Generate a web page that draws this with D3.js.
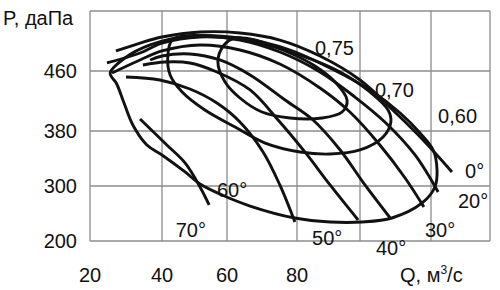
<!DOCTYPE html>
<html><head><meta charset="utf-8">
<script src="https://cdn.jsdelivr.net/npm/d3@7"></script>
<style>html,body{margin:0;padding:0;background:#fff}svg{display:block}text{font-family:"Liberation Sans",Arial,sans-serif;fill:#111}</style>
</head><body><svg id="c" width="500" height="290"></svg>
<script>
// axis ticks
const xTickLabels = [20, 40, 60, 80];
const yTickLabels = [200, 300, 380, 460];
const xGrid = [20, 40, 60, 80, 100, 120];
const yGrid = [200, 300, 380, 460, 540];
const xDomainMax = 136.6;

// blade-angle characteristics, [Q, P]
const curveNames = ["0°", "20°", "30°", "40°", "50°", "60°", "70°"];
const c0 = [[27.2,486.7],[33.9,497.3],[40,505.3],[51.7,512],[63.7,510.7],[75.1,501.3],[87.3,480],[100,448],[110.7,401.3],[118.3,364],[125.9,320.4]];
const c20 = [[24.7,470.7],[33.9,484],[40,497.3],[51.7,505.3],[63.7,501.3],[75.1,485.3],[87.3,458.7],[98.4,425.3],[107,392],[115.5,345.1],[122,289.1]];
const c30 = [[26.1,457.3],[33.9,474.7],[40,486.7],[51.7,494.7],[63.7,488],[75.1,469.3],[87.3,437.3],[96.8,405.3],[105.6,359.6],[112.7,311.6],[118,261.8]];
const c40 = [[36.7,474.7],[40,480],[48.6,482.7],[57.8,474.7],[66.6,454.7],[76.6,421.3],[85.1,394.7],[93.7,352.4],[101.4,301.5],[108.5,241.8]];
const c50 = [[34.7,468],[40.9,472],[48.6,470.7],[56.9,458.7],[66.6,434.7],[74.6,394.7],[82.5,349.5],[90.5,301.5],[99.4,238.2]];
const c60 = [[30,452],[39.4,448],[48.6,436],[56.9,417.3],[63.7,392],[70.3,349.5],[75.1,301.5],[79.4,234.5]];
const c70 = [[33.9,396],[41.5,359.6],[47.1,333.5],[51.7,298.2],[54.5,265.5]];

// efficiency contours (closed), [Q, P]
const effNames = ["0,75", "0,70", "0,60"];
const e75 = [[57.2,472],[59.1,494.7],[62.3,504],[68,501.3],[78,484],[85.7,466.7],[92.1,445.3],[95.9,421.3],[94.3,405.3],[87.9,397.3],[78,397.3],[70,405.3],[63.7,424],[59.4,445.3]];
const e70 = [[43.1,501.3],[41.8,481.3],[42.5,454.7],[46.2,432],[53.2,408],[62.3,385.3],[70.9,362.5],[81,349.5],[90.5,346.5],[100,352.4],[106.5,371.3],[108.7,392],[107.9,408],[102.8,432],[93.7,458.7],[81,481.3],[68,498.7],[54.8,506.7],[47.1,506.7]];
const e60 = [[25.6,457.3],[27.4,443],[29.4,418],[31.9,388],[35.8,359.6],[40,345.1],[47.1,320.4],[51.7,302.9],[58.5,283.6],[66.6,263.6],[79.4,241.8],[90.5,234.5],[100.6,234.5],[109,241.8],[117.5,269.1],[121.1,298.2],[121.7,323.3],[120.6,352.4],[116.9,377.1],[111.3,404],[102.8,434.7],[90.5,464],[78,488],[63.7,504],[48.6,506.7],[36.7,494.7],[29.7,477.3]];

// label anchors [Q, P]
const curveLabelPos = [[129.6,311.6],[127.6,260],[118.3,207.3],[104.5,174.5],[84.8,192.7],[56.9,280],[44.2,207.3]];
const effLabelPos = [[85.7,481.3],[104.2,425.3],[122,390.7]];

const svg = d3.select("#c");
const x = d3.scaleLinear().domain([20,40,60,80,100,120,xDomainMax]).range([90,162,227,297,360,431,490]);
const y = d3.scaleLinear().domain([200,300,380,460,540]).range([241,186,131,71,11]);

const gridColor = "#8c8c8c";
const g = svg.append("g");
g.selectAll("line.v").data(xGrid).join("line")
  .attr("x1", d => x(d)).attr("x2", d => x(d)).attr("y1", y(540)).attr("y2", y(200))
  .attr("stroke", gridColor).attr("stroke-width", 1.3);
g.selectAll("line.h").data(yGrid).join("line")
  .attr("x1", x(20)).attr("x2", x(xDomainMax)).attr("y1", d => y(d)).attr("y2", d => y(d))
  .attr("stroke", gridColor).attr("stroke-width", 1.3);
g.append("line").attr("x1", x(xDomainMax)).attr("x2", x(xDomainMax)).attr("y1", y(540)).attr("y2", y(200))
  .attr("stroke", gridColor).attr("stroke-width", 1.3);

const lineOpen = d3.line().x(d => x(d[0])).y(d => y(d[1])).curve(d3.curveCatmullRom.alpha(0.5));
const lineClosed = d3.line().x(d => x(d[0])).y(d => y(d[1])).curve(d3.curveCatmullRomClosed.alpha(0.5));

const curves = [c0, c20, c30, c40, c50, c60, c70];
const effs = [e75, e70, e60];
svg.selectAll("path.e").data(effs).join("path")
  .attr("d", lineClosed).attr("fill", "none").attr("stroke", "#111").attr("stroke-width", 2.9);
svg.selectAll("path.c").data(curves).join("path")
  .attr("d", lineOpen).attr("fill", "none").attr("stroke", "#111").attr("stroke-width", 2.9).attr("stroke-linecap", "butt");

const fs = 20;
svg.selectAll("text.cl").data(curveNames).join("text")
  .attr("x", (d, i) => x(curveLabelPos[i][0])).attr("y", (d, i) => y(curveLabelPos[i][1]))
  .attr("font-size", fs).text(d => d);
svg.selectAll("text.el").data(effNames).join("text")
  .attr("x", (d, i) => x(effLabelPos[i][0])).attr("y", (d, i) => y(effLabelPos[i][1]))
  .attr("font-size", fs).text(d => d);

svg.selectAll("text.yt").data(yTickLabels).join("text")
  .attr("x", 77).attr("y", d => y(d)).attr("dy", "0.36em").attr("text-anchor", "end")
  .attr("font-size", fs).text(d => d);
svg.selectAll("text.xt").data(xTickLabels).join("text")
  .attr("x", d => x(d)).attr("y", 282).attr("text-anchor", "middle")
  .attr("font-size", fs).text(d => d);

svg.append("text").attr("x", 3).attr("y", 25).attr("font-size", fs).text("P, даПа");
const qt = svg.append("text").attr("x", 400).attr("y", 282).attr("font-size", fs);
qt.append("tspan").text("Q, м");
qt.append("tspan").attr("dy", -8).attr("font-size", 12).text("3");
qt.append("tspan").attr("dy", 8).text("/с");
</script></body></html>
